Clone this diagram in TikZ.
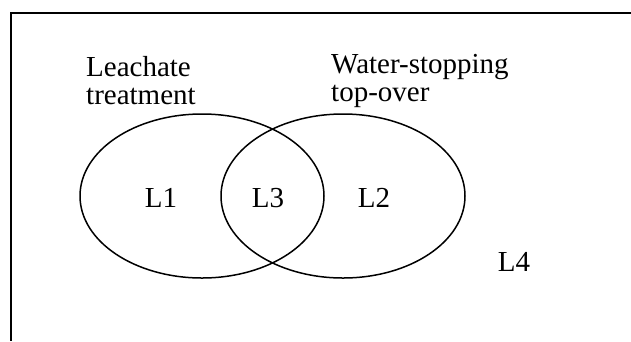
\documentclass[tikz,border=0pt]{standalone}
\usepackage{fontspec}
\setmainfont{Liberation Serif}
\usetikzlibrary{shapes.geometric}
\begin{document}
\begin{tikzpicture}[x=1pt, y=-1pt,
            set/.style={ellipse, draw, line width=1.5pt, minimum width=244pt, minimum height=164pt, inner sep=0pt},
            region/.style={inner sep=0pt, font=\fontsize{29}{29}\selectfont},
            caption/.style={inner sep=0pt, align=left, anchor=base west, font=\fontsize{29}{28}\selectfont}
        ]
            \useasboundingbox (0,0) rectangle (631,341);
            \draw[line width=1.5pt] (631,13) -- (11,13) -- (11,341);

            \node[set] (lt) at (202,196) {};
            \node[set] (ws) at (343,196) {};

            \node[caption] (ltname) at (86,104) {Leachate\\treatment};
            \node[caption] (wsname) at (331,101) {Water-stopping\\top-over};

            \node[region] (l1) at (161,198) {L1};
            \node[region] (l3) at (268,198) {L3};
            \node[region] (l2) at (374,198) {L2};
            \node[region] (l4) at (514,262) {L4};

        \end{tikzpicture}
\end{document}
